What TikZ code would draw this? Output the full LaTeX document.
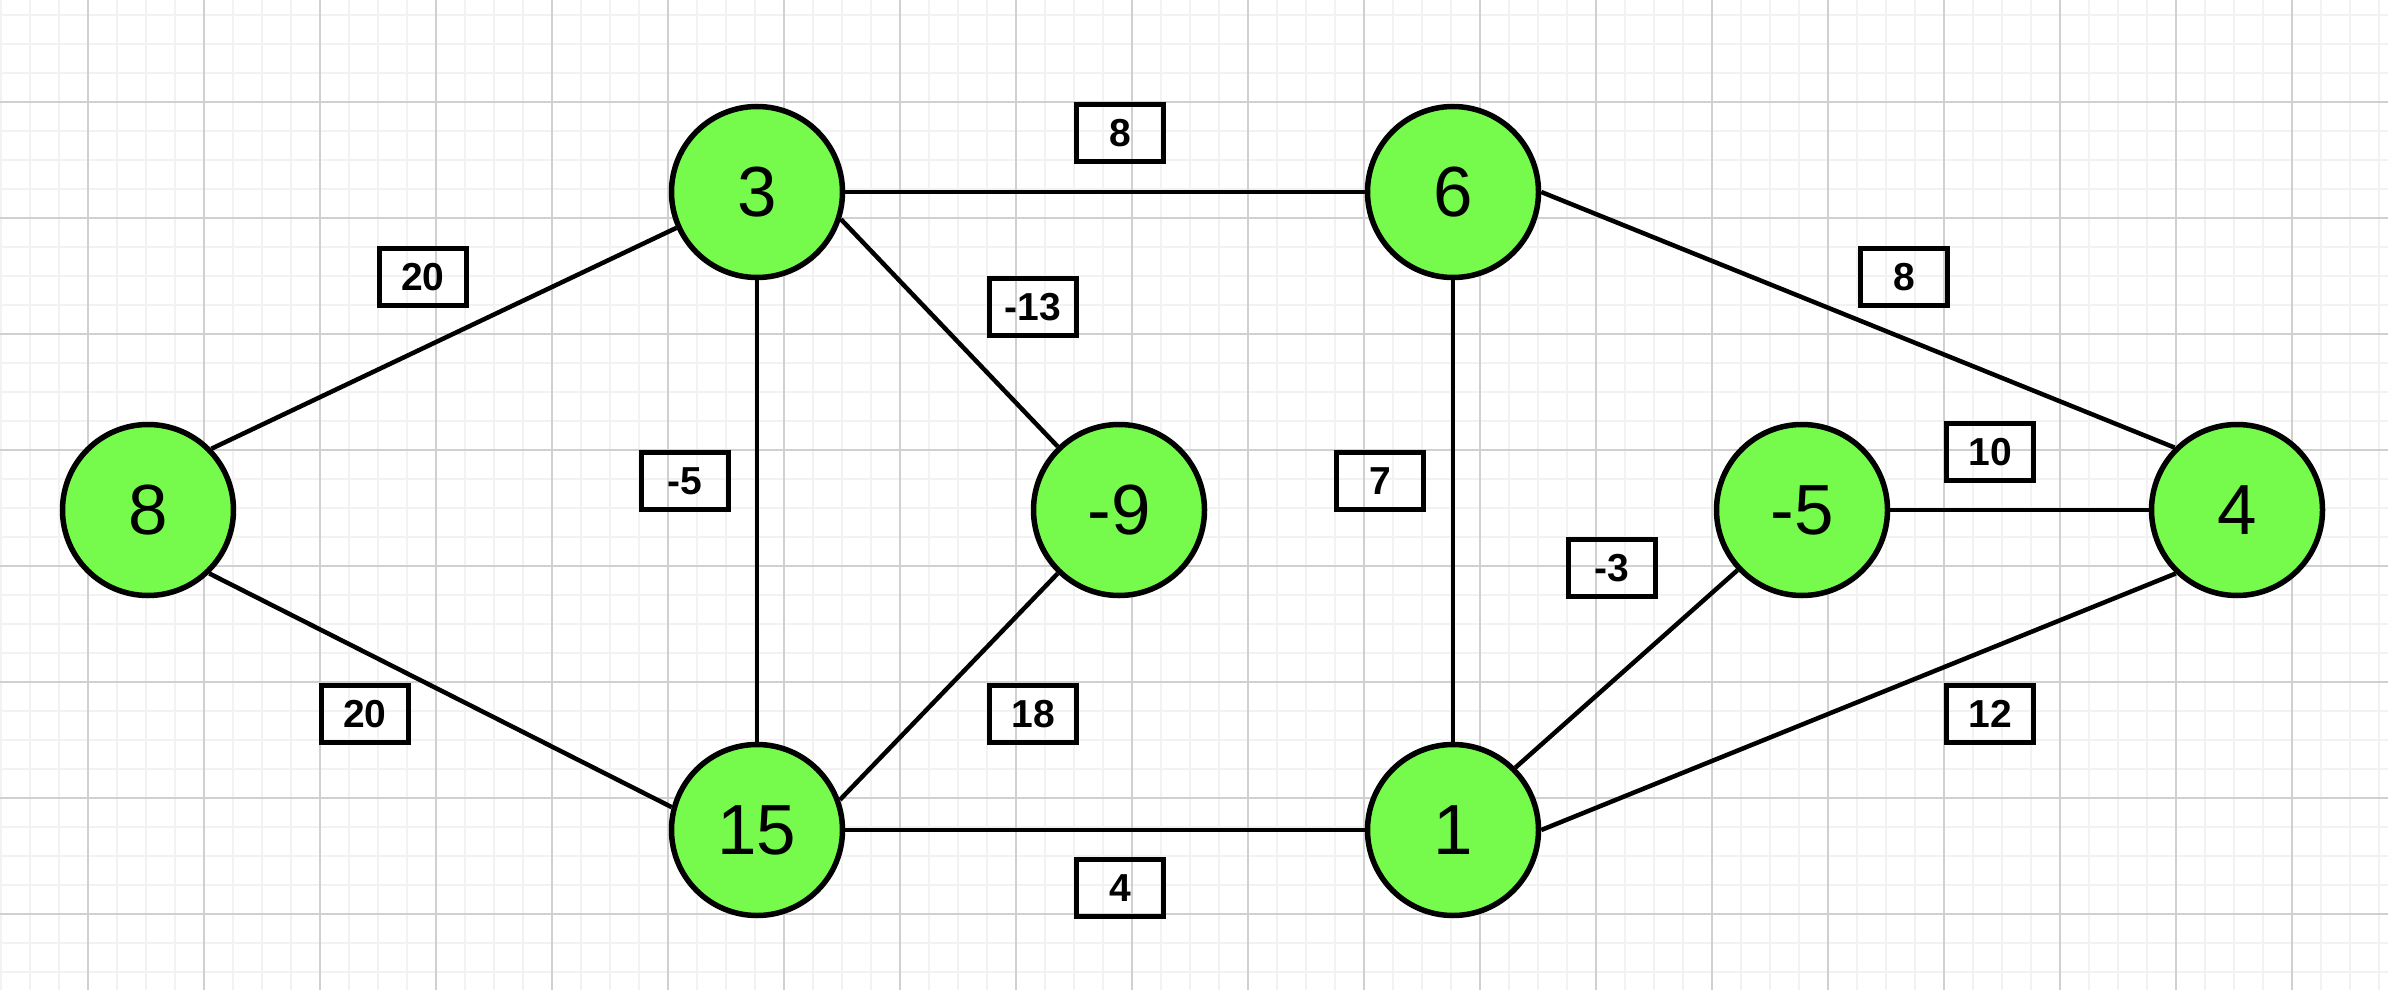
\documentclass[tikz,border=0pt]{standalone}
\usepackage{fontspec}
\setmainfont{Liberation Sans}
\definecolor{nodegreen}{RGB}{118,251,77}
\definecolor{gridminor}{RGB}{242,242,242}
\definecolor{gridmajor}{RGB}{208,208,208}
\begin{document}
\begin{tikzpicture}[x=1pt,y=-1pt,
  vertex/.style={circle, draw=black, line width=5.5pt, fill=nodegreen,
    minimum size=171pt, inner sep=0pt, font=\fontsize{71}{85}\selectfont},
  weight/.style={draw=black, line width=5pt, minimum width=87pt,
    minimum height=57pt, inner sep=0pt, font=\bfseries\fontsize{39}{47}\selectfont},
  edge/.style={line width=4.5pt},
  minorline/.style={gridminor, line width=2pt},
  majorline/.style={gridmajor, line width=1.8pt}]
\useasboundingbox[fill=white] (0,0) rectangle (2388,990);

% background grid: minor every 29, major every 116
\foreach \i in {0,...,82} \draw[minorline] (1.3+29*\i,0) -- (1.3+29*\i,990);
\foreach \j in {0,...,33} \draw[minorline] (0,15.3+29*\j) -- (2388,15.3+29*\j);
\foreach \i in {0,...,20} \draw[majorline] (88.3+116*\i,0) -- (88.3+116*\i,990);
\foreach \j in {0,...,8} \draw[majorline] (0,102.3+116*\j) -- (2388,102.3+116*\j);

% vertices
\node[vertex] (n8)  at (148,510)  {8};
\node[vertex] (n3)  at (757,192)  {3};
\node[vertex] (n15) at (757,830)  {15};
\node[vertex] (nm9) at (1119,510) {-9};
\node[vertex] (n6)  at (1453,192) {6};
\node[vertex] (n1)  at (1453,830) {1};
\node[vertex] (nm5) at (1802,510) {-5};
\node[vertex] (n4)  at (2237,510) {4};

% edges
\draw[edge] (n8.44)   -- (n3.204);
\draw[edge] (n8.-46)  -- (n15.165);
\draw[edge] (n3.east) -- (n6.west);
\draw[edge] (n3.south) -- (n15.north);
\draw[edge] (n3.-18)  -- (nm9.134);
\draw[edge] (n15.20)  -- (nm9.226);
\draw[edge] (n15.east) -- (n1.west);
\draw[edge] (n6.south) -- (n1.north);
\draw[edge] (n6.east) -- (n4.135);
\draw[edge] (n1.east) -- (n4.226);
\draw[edge] (n1.45)   -- (nm5.223);
\draw[edge] (nm5.east) -- (n4.west);

% edge weights
\node[weight] (w36)   at (1120,133) {8};
\node[weight] (w83)   at (423,277)  {20};
\node[weight] (w39)   at (1033,307) {-13};
\node[weight] (w315)  at (685,481)  {-5};
\node[weight] (w61)   at (1380,481) {7};
\node[weight] (w64)   at (1904,277) {8};
\node[weight] (w54)   at (1990,452) {10};
\node[weight] (w15)   at (1612,568) {-3};
\node[weight] (w815)  at (365,714)  {20};
\node[weight] (w159)  at (1033,714) {18};
\node[weight] (w151)  at (1120,888) {4};
\node[weight] (w14)   at (1990,714) {12};
\end{tikzpicture}
\end{document}
